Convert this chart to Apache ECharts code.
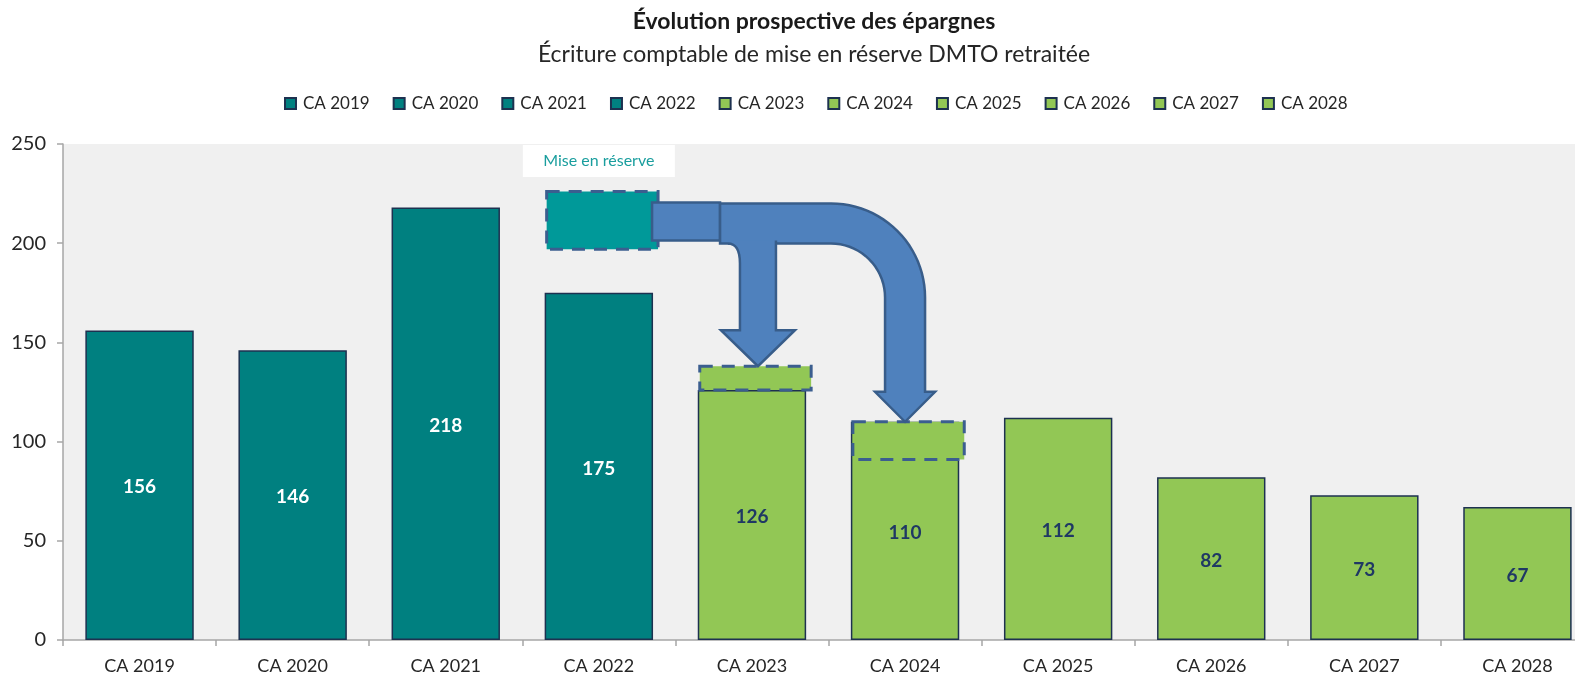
<!DOCTYPE html>
<html>
<head>
<meta charset="utf-8">
<script src="https://cdn.jsdelivr.net/npm/echarts@6/dist/echarts.min.js"></script>
<style>
  html, body { margin: 0; padding: 0; background: #fff; }
  #chart { width: 1575px; height: 677px; }
</style>
</head>
<body>
<div id="chart"></div>
<script>
const categories = ["CA 2019", "CA 2020", "CA 2021", "CA 2022", "CA 2023", "CA 2024", "CA 2025", "CA 2026", "CA 2027", "CA 2028"];
const values = [156, 146, 218, 175, 126, 110, 112, 82, 73, 67];
const yTicks = [0, 50, 100, 150, 200, 250];

// reserve boxes drawn as dashed rectangles: [category, top value, bottom value]
const reserveBoxes = [
  ["CA 2022", 226, 197],
  ["CA 2023", 138, 126],
  ["CA 2024", 110, 91]
];
const reserveLabel = "Mise en réserve";
const arrowShaftTop = 220;

const TEAL = "#008080";
const GREEN = "#92C755";
const BORDER = "#1d3150";
const FONT = "Lato";

const chart = echarts.init(document.getElementById("chart"));

const series = categories.map((name, i) => {
  const isTeal = i < 4;
  return {
    name: name,
    type: "bar",
    stack: "all",
    barWidth: "70.8%",
    data: categories.map((c, j) => (j === i ? values[i] : "-")),
    itemStyle: {
      color: isTeal ? TEAL : GREEN,
      borderColor: BORDER,
      borderWidth: 1.5
    },
    label: {
      show: true,
      position: "inside",
      offset: [0, 2],
      fontFamily: FONT,
      fontSize: 19,
      fontWeight: "bold",
      color: isTeal ? "#ffffff" : "#1F3864"
    },
    emphasis: { disabled: true },
    animation: false
  };
});

chart.setOption({
  animation: false,
  textStyle: { fontFamily: FONT },
  title: {
    text: "Évolution prospective des épargnes",
    subtext: "Écriture comptable de mise en réserve DMTO retraitée",
    left: 809,
    textAlign: "center",
    top: 5,
    itemGap: 10,
    textStyle: { fontFamily: FONT, fontSize: 23, fontWeight: "bold", color: "#1a1a1a" },
    subtextStyle: { fontFamily: FONT, fontSize: 23, color: "#262626" }
  },
  legend: {
    top: 90,
    left: 279,
    itemWidth: 11,
    itemHeight: 11,
    itemGap: 23,
    icon: "rect",
    textStyle: { fontFamily: FONT, fontSize: 17, color: "#262626", padding: [0, 0, 0, 2] },
    data: categories
  },
  grid: {
    left: 63,
    right: -19,
    top: 144,
    bottom: 37,
    outerBoundsMode: "none",
    show: true,
    backgroundColor: "#f0f0f0",
    borderWidth: 0
  },
  xAxis: {
    type: "category",
    data: categories,
    axisLine: { lineStyle: { color: "#a6a6a6", width: 1.5 } },
    axisTick: { show: true, length: 6, lineStyle: { color: "#a6a6a6", width: 1.5 } },
    axisLabel: { fontFamily: FONT, fontSize: 18, color: "#262626", margin: 17 }
  },
  yAxis: {
    type: "value",
    min: yTicks[0],
    max: yTicks[yTicks.length - 1],
    interval: yTicks[1] - yTicks[0],
    axisLine: { show: true, lineStyle: { color: "#a6a6a6", width: 1.5 } },
    axisTick: { show: true, length: 6, lineStyle: { color: "#a6a6a6", width: 1.5 } },
    splitLine: { show: false },
    axisLabel: { fontFamily: FONT, fontSize: 20, color: "#262626", margin: 17 }
  },
  series: series
});

// annotations anchored on the axes
const px = (cat, val) => chart.convertToPixel({ xAxisIndex: 0, yAxisIndex: 0 }, [cat, val]);
const band = px(categories[1], 0)[0] - px(categories[0], 0)[0];
const halfBar = band * 0.354;

function arcPts(cx, cy, rad, a0, a1, n) {
  const pts = [];
  for (let k = 0; k <= n; k++) {
    const a = (a0 + (a1 - a0) * k / n) * Math.PI / 180;
    pts.push([cx + rad * Math.cos(a), cy + rad * Math.sin(a)]);
  }
  return pts;
}

const graphics = [];

// "Mise en réserve" label box over CA 2022
const top250 = px("CA 2022", yTicks[yTicks.length - 1]);
graphics.push({
  type: "rect",
  shape: { x: top250[0] - 76, y: top250[1] + 1, width: 152, height: 32 },
  style: { fill: "#ffffff" },
  z: 10
});
graphics.push({
  type: "text",
  x: top250[0],
  y: top250[1] + 17,
  style: { text: reserveLabel, fill: "#1a9e9e", font: "16px " + FONT, align: "center", verticalAlign: "middle" },
  z: 11
});

// dashed reserve boxes
reserveBoxes.forEach((b, i) => {
  const p1 = px(b[0], b[1]);
  const p2 = px(b[0], b[2]);
  graphics.push({
    type: "rect",
    shape: { x: p1[0] - halfBar + 2, y: p1[1], width: halfBar * 2 + 3, height: p2[1] - p1[1] },
    style: {
      fill: i === 0 ? "#009999" : GREEN,
      stroke: "#3B5E8F",
      lineWidth: 3,
      lineDash: [13, 9]
    },
    z: 10
  });
});

const ARROW_FILL = "#4F81BD";
const ARROW_STROKE = "#385D8A";
const boxA = px(reserveBoxes[0][0], 0)[0] + halfBar + 3;
const yT = px(categories[0], arrowShaftTop)[1];
const yB = yT + 40;
const xJ = boxA + 64;

// short shaft leaving the reserve box
graphics.push({
  type: "rect",
  shape: { x: boxA - 4, y: yT - 1, width: xJ - boxA + 4, height: 38 },
  style: { fill: ARROW_FILL, stroke: ARROW_STROKE, lineWidth: 2.5 },
  z: 12
});

// long curved arrow towards CA 2024
const cx2 = px(reserveBoxes[2][0], 0)[0];
const tip2 = px(reserveBoxes[2][0], reserveBoxes[2][1])[1];
const head2 = tip2 - 30;
const R = 94, r = 54;
const acx = cx2 + 20 - R;
const ptsA = [[xJ, yT]]
  .concat(arcPts(acx, yT + R, R, -90, 0, 24))
  .concat([[cx2 + 20, head2], [cx2 + 30, head2], [cx2, tip2], [cx2 - 30, head2], [cx2 - 20, head2]])
  .concat(arcPts(acx, yT + R, r, 0, -90, 18))
  .concat([[xJ, yB]]);
graphics.push({
  type: "polygon",
  shape: { points: ptsA },
  style: { fill: ARROW_FILL, stroke: ARROW_STROKE, lineWidth: 2.5, lineJoin: "miter" },
  z: 12
});

// branch arrow towards CA 2023
const cx1 = px(reserveBoxes[1][0], 0)[0] + 6;
const tip1 = px(reserveBoxes[1][0], reserveBoxes[1][1])[1];
const head1 = tip1 - 36;
const fillet = [];
for (let k = 0; k <= 8; k++) {
  const t = k / 8;
  // quadratic from (cx1-18, yB+20) via (cx1-18, yB) to (cx1-30, yB)
  const x = (1 - t) * (1 - t) * (cx1 - 18) + 2 * t * (1 - t) * (cx1 - 18) + t * t * (cx1 - 30);
  const y = (1 - t) * (1 - t) * (yB + 20) + 2 * t * (1 - t) * yB + t * t * yB;
  fillet.push([x, y]);
}
const ptsB = [[cx1 + 18, yB - 3], [cx1 + 18, head1], [cx1 + 37, head1], [cx1, tip1], [cx1 - 37, head1], [cx1 - 18, head1]]
  .concat(fillet);
graphics.push({
  type: "polygon",
  shape: { points: ptsB.concat([[cx1 - 30, yB - 3]]) },
  style: { fill: ARROW_FILL },
  z: 13
});
graphics.push({
  type: "polyline",
  shape: { points: ptsB },
  style: { fill: null, stroke: ARROW_STROKE, lineWidth: 2.5 },
  z: 14
});

chart.setOption({ graphic: graphics });
</script>
</body>
</html>
